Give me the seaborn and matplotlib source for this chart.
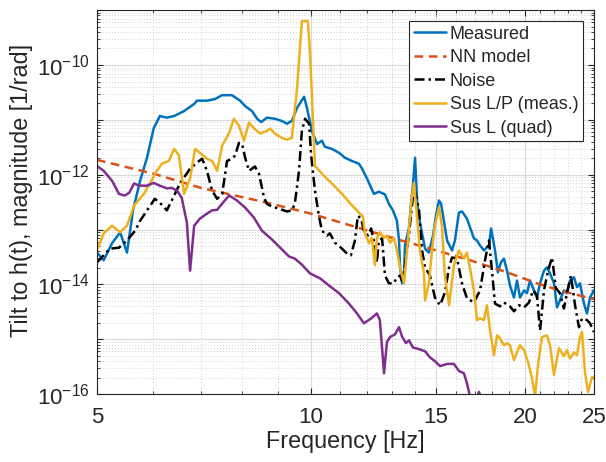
import numpy as np
import matplotlib
matplotlib.use("Agg")
import matplotlib.pyplot as plt
import matplotlib.ticker as mticker
import seaborn as sns

# values (frequency in Hz, magnitude as log10 of 1/rad)
measured_freq = [5.00, 5.11, 5.25, 5.39, 5.51, 5.62, 5.75, 5.88, 6.01, 6.13, 6.27, 6.42, 6.63, 6.85, 6.91,
                 7.14, 7.33, 7.50, 7.74, 7.95, 8.08, 8.26, 8.40, 8.51, 8.67, 8.90, 9.10, 9.25, 9.40, 9.56,
                 9.78, 9.87, 10.03, 10.20, 10.36, 10.46, 10.70, 10.95, 11.16, 11.42, 11.68, 11.80, 11.99,
                 12.26, 12.46, 12.71, 12.87, 13.04, 13.21, 13.30, 13.34, 13.43, 13.52, 13.56, 13.74, 13.82,
                 13.91, 14.01, 14.10, 14.19, 14.33, 14.47, 14.65, 14.85, 14.99, 15.14, 15.24, 15.38, 15.54,
                 15.79, 15.94, 16.15, 16.31, 16.57, 16.74, 16.95, 17.12, 17.29, 17.51, 17.80, 17.92, 18.15,
                 18.32, 18.50, 18.68, 18.87, 19.05, 19.30, 19.49, 19.68, 19.94, 20.13, 20.33, 20.59, 20.79,
                 21.00, 21.27, 21.48, 21.69, 21.97, 22.19, 22.40, 22.69, 22.91, 23.14, 23.44, 23.67, 23.90,
                 24.21, 24.45, 24.69, 25.00]
measured_log10 = [-13.42, -13.56, -13.25, -13.05, -13.42, -12.65, -12.11, -11.69, -11.15, -10.93, -10.96,
                  -10.93, -10.84, -10.71, -10.65, -10.65, -10.62, -10.55, -10.55, -10.65, -10.75, -10.84,
                  -10.98, -11.04, -10.96, -10.98, -11.02, -11.07, -11.02, -10.78, -10.58, -10.78, -11.20,
                  -11.44, -11.38, -11.49, -11.53, -11.60, -11.69, -11.75, -11.80, -11.89, -12.07, -12.35,
                  -12.31, -12.36, -12.53, -12.65, -12.84, -13.20, -13.65, -13.98, -13.78, -13.29, -12.96,
                  -12.56, -12.20, -11.69, -12.47, -12.78, -13.07, -13.35, -13.42, -13.11, -12.75, -12.47,
                  -12.53, -12.84, -13.20, -13.38, -13.20, -12.69, -12.67, -12.80, -12.96, -13.16, -13.20,
                  -13.29, -13.38, -13.29, -12.98, -13.38, -13.78, -13.60, -13.53, -13.75, -14.02, -14.24,
                  -13.93, -14.24, -14.11, -14.16, -13.93, -14.11, -14.24, -13.98, -13.75, -13.69, -13.80,
                  -13.98, -14.42, -14.29, -14.11, -14.16, -13.93, -13.87, -14.05, -13.98, -14.35, -14.53,
                  -14.24, -14.11]

model_freq = [5.0, 6.0, 7.0, 8.67, 10.0, 11.0, 13.0, 15.0, 16.74, 18.87, 20.79, 22.40, 25.0]
model_log10 = [-11.73, -11.98, -12.24, -12.51, -12.71, -12.87, -13.15, -13.38, -13.56, -13.78, -13.98,
               -14.11, -14.27]

noise_freq = [5.00, 5.11, 5.21, 5.37, 5.51, 5.66, 5.75, 5.88, 6.03, 6.13, 6.27, 6.37, 6.52, 6.63, 6.76,
              6.91, 7.03, 7.14, 7.26, 7.38, 7.50, 7.62, 7.74, 7.82, 7.92, 8.00, 8.08, 8.18, 8.34, 8.45,
              8.59, 8.67, 8.81, 9.02, 9.25, 9.40, 9.49, 9.62, 9.71, 9.81, 9.94, 10.0, 10.13, 10.26, 10.36,
              10.53, 10.63, 10.81, 11.06, 11.24, 11.38, 11.53, 11.64, 11.76, 11.87, 12.03, 12.15, 12.30,
              12.38, 12.46, 12.59, 12.71, 12.87, 13.08, 13.21, 13.34, 13.43, 13.56, 13.74, 13.87, 13.96,
              14.10, 14.19, 14.33, 14.47, 14.70, 14.94, 15.19, 15.43, 15.64, 15.79, 16.05, 16.31, 16.57,
              16.95, 17.29, 17.57, 17.80, 17.97, 18.15, 18.44, 18.68, 19.05, 19.30, 19.62, 19.94, 20.26,
              20.53, 20.79, 21.00, 21.27, 21.55, 21.83, 22.11, 22.40, 22.69, 22.91, 23.21, 23.52, 23.82,
              24.06, 24.45, 24.69, 25.0]
noise_log10 = [-13.60, -13.47, -13.35, -13.33, -13.20, -13.02, -12.84, -12.65, -12.44, -12.51, -12.65,
               -12.47, -12.20, -12.05, -11.89, -11.78, -11.71, -11.93, -12.29, -12.44, -12.35, -11.75,
               -11.71, -11.65, -11.42, -11.44, -11.69, -11.93, -11.85, -11.98, -12.42, -12.53, -12.58,
               -12.62, -12.67, -12.65, -12.53, -11.93, -11.20, -10.98, -11.07, -11.62, -12.29, -12.75,
               -13.02, -13.11, -13.07, -13.24, -13.35, -13.44, -13.47, -13.20, -12.75, -12.80, -13.02,
               -13.11, -12.98, -13.29, -13.60, -13.20, -13.16, -13.84, -13.98, -13.98, -13.87, -13.84,
               -13.93, -13.65, -13.07, -12.56, -12.24, -12.47, -12.65, -13.38, -13.69, -13.84, -14.24,
               -14.38, -14.15, -13.69, -13.51, -13.53, -13.98, -14.25, -14.33, -14.11, -13.56, -13.20,
               -13.75, -14.35, -14.40, -14.33, -14.40, -14.49, -14.38, -14.42, -14.33, -14.11, -14.20,
               -14.84, -14.11, -13.75, -13.51, -14.07, -14.16, -14.44, -14.16, -13.84, -14.38, -14.78,
               -14.62, -14.65, -14.71, -14.87]

sus_lp_freq = [5.00, 5.11, 5.25, 5.39, 5.51, 5.64, 5.82, 5.94, 6.07, 6.17, 6.31, 6.42, 6.52, 6.63, 6.76,
               6.87, 6.98, 7.14, 7.26, 7.38, 7.50, 7.67, 7.79, 7.92, 8.05, 8.18, 8.31, 8.48, 8.67, 8.76,
               8.90, 9.10, 9.25, 9.40, 9.56, 9.71, 9.90, 9.97, 10.13, 10.43, 10.70, 11.06, 11.42, 11.68,
               11.83, 11.91, 12.07, 12.18, 12.30, 12.38, 12.50, 12.67, 12.79, 12.92, 13.08, 13.21, 13.34,
               13.52, 13.65, 13.78, 13.87, 13.96, 14.10, 14.23, 14.42, 14.47, 14.65, 14.80, 14.94, 15.14,
               15.29, 15.43, 15.64, 15.89, 16.15, 16.41, 16.57, 16.74, 16.95, 17.12, 17.29, 17.51, 17.68,
               17.86, 18.09, 18.27, 18.44, 18.68, 18.87, 19.05, 19.30, 19.49, 19.68, 19.94, 20.20, 20.46,
               20.66, 20.86, 21.13, 21.48, 21.69, 21.97, 22.33, 22.69, 22.91, 23.14, 23.44, 23.67, 23.90,
               24.06, 24.29, 24.53, 24.85, 25.0]
sus_lp_log10 = [-13.38, -13.07, -12.93, -13.05, -12.93, -12.56, -12.35, -12.15, -11.93, -11.80, -11.75,
                -11.53, -11.65, -12.35, -12.07, -11.53, -11.60, -11.71, -11.75, -11.93, -11.47, -11.24,
                -10.98, -11.11, -11.38, -11.05, -11.15, -11.25, -11.20, -11.16, -11.25, -11.33, -11.36,
                -11.33, -10.42, -9.20, -9.20, -9.80, -11.84, -12.02, -12.16, -12.35, -12.56, -12.69,
                -12.76, -13.07, -13.25, -13.15, -13.65, -13.15, -13.05, -13.15, -13.11, -13.24, -13.15,
                -13.38, -13.69, -13.98, -13.38, -12.78, -12.38, -12.15, -12.78, -13.38, -13.80, -14.29,
                -13.98, -13.38, -12.93, -12.60, -12.96, -13.84, -14.38, -13.65, -13.38, -13.53, -13.42,
                -13.71, -14.11, -14.65, -14.62, -14.65, -14.38, -14.84, -15.29, -14.93, -14.98, -15.11,
                -15.07, -15.11, -15.38, -15.24, -15.11, -15.20, -15.42, -15.71, -16.04, -15.47, -14.96,
                -14.93, -15.11, -15.65, -15.16, -15.31, -15.20, -15.35, -15.24, -15.29, -14.96, -14.87,
                -15.60, -15.96, -15.69, -15.69]

sus_l_freq = [5.00, 5.11, 5.25, 5.37, 5.47, 5.55, 5.64, 5.73, 5.88, 6.01, 6.13, 6.27, 6.37, 6.48, 6.58,
              6.65, 6.69, 6.76, 6.85, 6.98, 7.14, 7.26, 7.38, 7.52, 7.67, 7.87, 8.08, 8.31, 8.53, 8.81,
              9.10, 9.31, 9.49, 9.71, 9.97, 10.30, 10.60, 10.95, 11.31, 11.61, 11.87, 12.15, 12.38, 12.50,
              12.67, 12.79, 12.92, 13.13, 13.30, 13.43, 13.60, 13.74, 13.91, 14.19, 14.47, 14.70, 14.94,
              15.19, 15.54, 15.89, 16.15, 16.41, 16.57, 16.74, 17.01, 17.23, 17.46, 18.44, 25.0]
sus_l_log10 = [-11.84, -11.93, -12.11, -12.35, -12.38, -12.33, -12.16, -12.20, -12.20, -12.15, -12.20,
               -12.25, -12.24, -12.29, -12.42, -12.71, -12.87, -13.75, -12.93, -12.80, -12.71, -12.65,
               -12.64, -12.51, -12.38, -12.47, -12.60, -12.78, -13.02, -13.18, -13.36, -13.49, -13.53,
               -13.64, -13.80, -13.89, -14.02, -14.16, -14.35, -14.53, -14.71, -14.62, -14.53, -14.65,
               -15.62, -15.05, -14.96, -14.91, -14.78, -14.95, -15.07, -15.02, -15.15, -15.18, -15.22,
               -15.33, -15.40, -15.49, -15.45, -15.45, -15.58, -15.62, -15.80, -16.04, -16.15, -15.96,
               -16.15, -16.29, -16.84]

x_ticks = [5, 10, 15, 20, 25]
x_tick_labels = ["5", "10", "15", "20", "25"]

sns.set_style("ticks")
plt.rcParams['font.family'] = ['Liberation Sans', 'DejaVu Sans']

fig = plt.figure(figsize=(6.06, 4.62), dpi=100)
ax = fig.add_axes([0.160, 0.147, 0.820, 0.831])

series = [
    ("Measured", measured_freq, measured_log10, "#0072BD", "-"),
    ("NN model", model_freq, model_log10, "#D95319", (0, (3.5, 2.2))),
    ("Noise", noise_freq, noise_log10, "black", (0, (4, 1.6, 1, 1.6))),
    ("Sus L/P (meas.)", sus_lp_freq, sus_lp_log10, "#EDB120", "-"),
    ("Sus L (quad)", sus_l_freq, sus_l_log10, "#7E2F8E", "-"),
]
for name, f, lg, col, ls in series:
    sns.lineplot(x=f, y=np.power(10.0, lg), ax=ax, color=col, linestyle=ls, linewidth=1.8,
                 label=name, estimator=None, sort=False)

ax.set_xscale("log")
ax.set_yscale("log")
ax.set_xlim(5, 25)
ax.set_ylim(1e-16, 1e-9)

ax.xaxis.set_major_locator(mticker.FixedLocator(x_ticks))
ax.xaxis.set_major_formatter(mticker.FixedFormatter(x_tick_labels))
ax.xaxis.set_minor_locator(mticker.FixedLocator([v for v in range(6, 25) if v not in x_ticks]))
ax.xaxis.set_minor_formatter(mticker.NullFormatter())

ax.yaxis.set_major_locator(mticker.FixedLocator([10.0 ** e for e in range(-16, -8)]))
ax.yaxis.set_major_formatter(mticker.FuncFormatter(
    lambda v, pos: r"$\mathregular{10^{%d}}$" % round(np.log10(v)) if round(np.log10(v)) % 2 == 0 else ""))
ax.yaxis.set_minor_locator(mticker.LogLocator(base=10, subs=np.arange(2, 10), numticks=30))
ax.yaxis.set_minor_formatter(mticker.NullFormatter())

ax.grid(True, which="major", color="#DADADA", linewidth=0.8, linestyle="-")
ax.grid(True, which="minor", color="#D2D2D2", linewidth=0.7, linestyle=(0, (1, 2)))
ax.set_axisbelow(True)

for sp in ax.spines.values():
    sp.set_color("#262626")
    sp.set_linewidth(0.8)
ax.tick_params(which="both", direction="in", top=True, right=True, color="#262626",
               labelcolor="#262626", labelsize=16)
ax.tick_params(which="major", length=4.5, width=0.8)
ax.tick_params(which="minor", length=2.5, width=0.6)
ax.tick_params(axis="x", which="major", pad=9)
ax.tick_params(axis="y", which="major", pad=5)

ax.set_xlabel("Frequency [Hz]", fontsize=16.8, color="#262626")
ax.set_ylabel("Tilt to h(t), magnitude [1/rad]", fontsize=16.8, color="#262626")
ax.xaxis.set_label_coords(0.5, -0.093)
ax.yaxis.set_label_coords(-0.129, 0.53)

leg = ax.legend(loc="upper right", bbox_to_anchor=(0.978, 0.971), borderaxespad=0, fontsize=13,
                frameon=True, fancybox=False, edgecolor="#262626", framealpha=1,
                handlelength=1.8, handletextpad=0.2, labelspacing=0.36, borderpad=0.25)
leg.get_frame().set_linewidth(0.8)

fig.savefig("out.png", dpi=100)
